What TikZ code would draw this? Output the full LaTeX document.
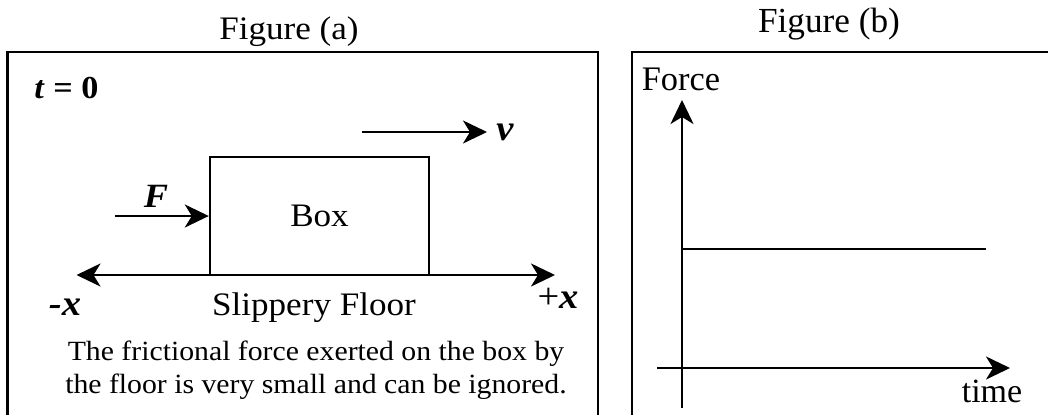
\documentclass[tikz,border=0pt]{standalone}
\usepackage{fontspec}
\setmainfont{Liberation Serif}
\newfontfamily\widefont[FakeStretch=1.07]{Liberation Serif}
\usetikzlibrary{arrows.meta}

\tikzset{
  frame/.style={line width=1.3pt},
  arr/.style={line width=1.2pt, -{Stealth[length=12pt,width=11.5pt,inset=3.5pt]}},
  darr/.style={line width=1.2pt, {Stealth[length=12pt,width=11.5pt,inset=3.5pt]}-{Stealth[length=12pt,width=11.5pt,inset=3.5pt]}},
  lbl/.style={inner sep=0pt, anchor=base, font=\widefont\fontsize{16.4pt}{18pt}\selectfont},
  sym/.style={inner sep=0pt, anchor=base, font=\widefont\fontsize{18pt}{20pt}\selectfont\bfseries\itshape},
  boxnode/.style={draw, line width=1.2pt, minimum width=109.5pt, minimum height=59pt,
    inner sep=0pt, font=\widefont\fontsize{16.4pt}{18pt}\selectfont},
  rlbl/.style={inner sep=0pt, anchor=base, font=\fontsize{17.2pt}{20pt}\selectfont},
}

\begin{document}
\begin{tikzpicture}[x=0.5pt, y=-0.5pt]
\useasboundingbox (0,0) rectangle (1048,414);

% ========= left: Figure (a) =========
\node[lbl] (figa) at (289,39) {Figure (a)};
\draw[frame] (7.6,416) -- (7.6,52) -- (598,52) -- (598,416);
\node[lbl, anchor=base west, font=\widefont\fontsize{16pt}{18pt}\selectfont\bfseries] (tzero) at (34,98) {\textit{t} = 0};

% box and the two arrows
\node[boxnode] (box) at (319.5,216) {Box};
\coordinate (vstart) at (362,132);
\coordinate (vend) at (487,132);
\node[sym] (vlab) at (505,140) {v};
\draw[arr] (vstart) -- (vend);
\coordinate (fstart) at (115,216);
\node[sym, font=\widefont\fontsize{17pt}{20pt}\selectfont\bfseries\itshape] (flab) at (156,207) {F};
\draw[arr] (fstart) -- (box.west);

% floor
\coordinate (floorl) at (76.5,275);
\coordinate (floorr) at (555,275);
\draw[darr] (floorl) -- (floorr);
\node[sym] (mx) at (65,315) {-x};
\node[sym] (px) at (558,308) {\normalfont\widefont\fontsize{18pt}{20pt}\selectfont+\bfseries\itshape x};
\node[lbl] (floor) at (314,315) {Slippery Floor};
\node[lbl, font=\widefont\fontsize{13.9pt}{16pt}\selectfont] (note1) at (316,360) {The frictional force exerted on the box by};
\node[lbl, font=\widefont\fontsize{13.9pt}{16pt}\selectfont] (note2) at (316,393) {the floor is very small and can be ignored.};

% ========= right: Figure (b) =========
\node[rlbl, font=\fontsize{17.6pt}{20pt}\selectfont] (figb) at (829,32) {Figure (b)};
\draw[frame] (632,416) -- (632,52) -- (1050,52);
\node[rlbl] (force) at (681,90) {Force};
\node[rlbl, font=\fontsize{17pt}{20pt}\selectfont] (time) at (992,402) {time};
\coordinate (ybot) at (682,408);
\coordinate (ytop) at (682,100);
\coordinate (xleft) at (657,368);
\coordinate (xright) at (1010,368);
\draw[arr] (ybot) -- (ytop);
\draw[arr] (xleft) -- (xright);
\coordinate (fl0) at (682,249);
\coordinate (fl1) at (986,249);
\draw[line width=1.2pt] (fl0) -- (fl1);
\end{tikzpicture}
\end{document}
